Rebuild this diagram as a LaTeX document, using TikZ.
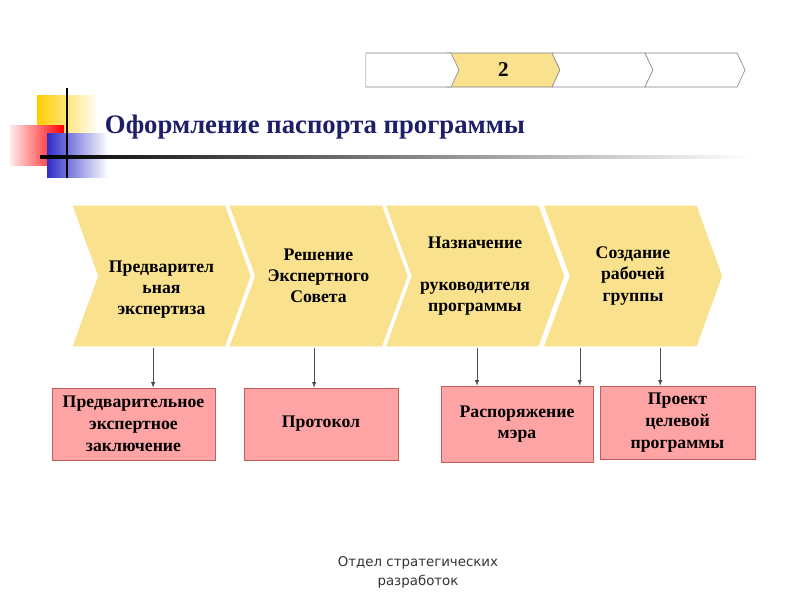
\documentclass[tikz,border=0pt]{standalone}
\usepackage{fontspec}
\setmainfont{Liberation Serif}
\newfontfamily\footfont{DejaVu Sans}
\usetikzlibrary{shapes,arrows,positioning}
\definecolor{chevyellow}{RGB}{250,225,142}
\definecolor{boxpink}{RGB}{255,164,164}
\definecolor{boxedge}{RGB}{196,92,92}
\definecolor{titleblue}{RGB}{30,30,105}
\definecolor{decoyellow}{RGB}{255,204,0}
\definecolor{decoblue}{RGB}{46,46,200}

\begin{document}
\begin{tikzpicture}[x=0.025cm, y=-0.025cm,
  chev/.style={signal, signal to=east, signal from=west, signal pointer angle=140, fill=chevyellow, draw=white, line width=1pt, minimum width=4.5cm, minimum height=3.55cm, inner sep=0pt},
  chevtxt/.style={align=center, font=\bfseries\fontsize{12.6}{15}\selectfont},
  doc/.style={rectangle, draw=boxedge, fill=boxpink, align=center, font=\bfseries\fontsize{12.6}{15.5}\selectfont},
  stage/.style={signal, signal to=east, signal pointer angle=130, draw=gray, fill=white, minimum height=0.85cm, inner sep=0pt, font=\bfseries\fontsize{15}{18}\selectfont},
  arrow/.style={-latex, draw=gray!60!black, thin}]
\useasboundingbox (0,0) rectangle (800,600);
% decoration at the title
\shade[left color=decoyellow, middle color=decoyellow, right color=white] (37,95) rectangle (98,150);
\shade[left color=red!8, right color=red] (10,125) rectangle (64,165);
\shade[left color=decoblue, middle color=decoblue, right color=white] (47,133) rectangle (108,177);
\draw[line width=1.5pt] (67,88) -- (67,178);
\shade[left color=black, middle color=black!75, right color=white] (40,155.8) rectangle (750,158.6);
\node[anchor=west, text=titleblue, font=\bfseries\fontsize{19}{23}\selectfont] (title) at (100,127) {Оформление паспорта программы};
% stage bar
\node[stage, minimum width=2.825cm, signal from=west, fill=chevyellow] (s2) at (503.5,70) {2};
\node[stage, minimum width=2.325cm] (s1) at (408.5,70) {};
\node[stage, minimum width=2.525cm, signal from=west] (s3) at (602.5,70) {};
\node[stage, minimum width=2.5cm, signal from=west] (s4) at (695,70) {};
% chevrons
\node[chev] (c1) at (161.5,276) {};
\node[chev] (c2) at (318.5,276) {};
\node[chev] (c3) at (475,276) {};
\node[chev] (c4) at (633,276) {};
\node[chevtxt] (t1) at ([yshift=-0.33cm]c1.center) {Предварител\\ьная\\экспертиза};
\node[chevtxt] (t2) at (c2.center) {Решение\\Экспертного\\Совета};
\node[chevtxt] (t3) at (c3.center) {Назначение\\[15pt]руководителя\\программы};
\node[chevtxt] (t4) at (c4.center) {Создание\\рабочей\\группы};
% documents
\node[doc, minimum width=4.075cm, minimum height=1.8cm] (d1) at (133.5,424) {Предварительное\\экспертное\\заключение};
\node[doc, minimum width=3.85cm, minimum height=1.8cm] (d2) at (321,424) {Протокол};
\node[doc, minimum width=3.8cm, minimum height=1.9cm] (d3) at (517,424) {Распоряжение\\мэра};
\node[doc, minimum width=3.875cm, minimum height=1.825cm] (d4) at (677.5,422.5) {Проект\\целевой\\программы};
\draw[arrow] ([xshift=-0.21cm]c1.south) -- ([xshift=-0.21cm]c1.south |- d1.north);
\draw[arrow] ([xshift=-0.11cm]c2.south) -- ([xshift=-0.11cm]c2.south |- d2.north);
\draw[arrow] ([xshift=0.05cm]c3.south) -- ([xshift=0.05cm]c3.south |- d3.north);
\draw[arrow] ([xshift=-1.33cm]c4.south) -- ([xshift=-1.33cm]c4.south |- d3.north);
\draw[arrow] ([xshift=0.68cm]c4.south) -- ([xshift=0.68cm]c4.south |- d4.north);
\node[align=center, text=black!80, font=\footfont\fontsize{9.5}{13}\selectfont] (foot) at (418,572.5) {Отдел стратегических\\разработок};
\end{tikzpicture}
\end{document}
